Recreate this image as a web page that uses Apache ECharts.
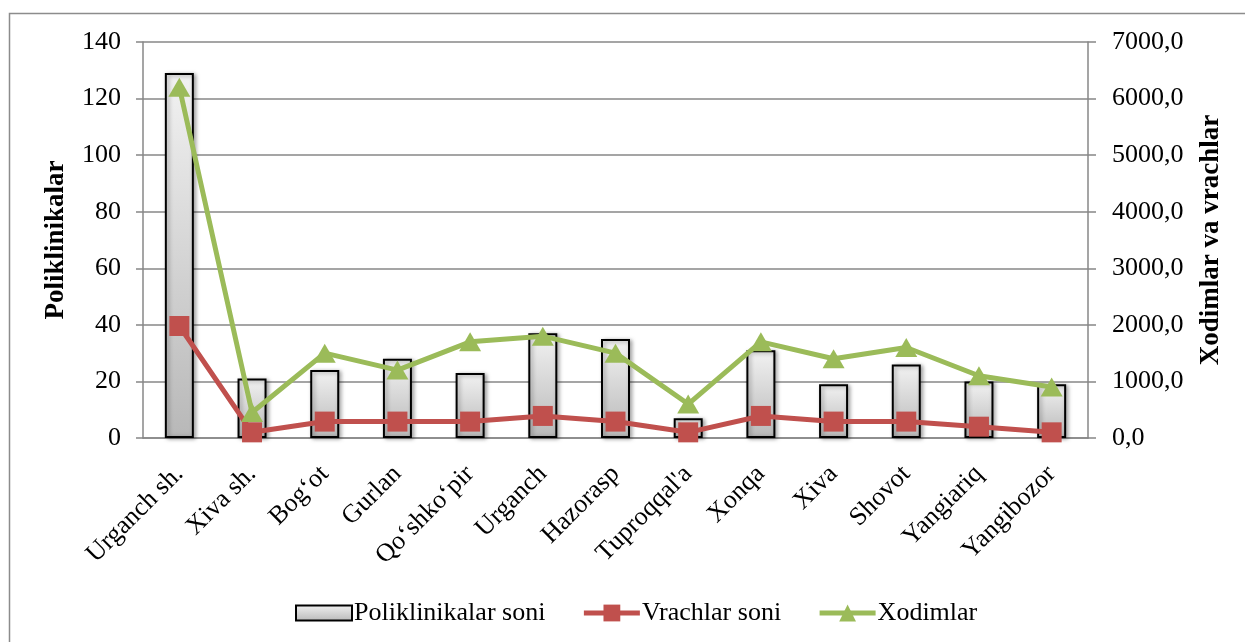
<!DOCTYPE html>
<html lang="uz">
<head>
    <meta charset="UTF-8">
    <title>Poliklinikalar</title>
    <script src="https://cdn.jsdelivr.net/npm/echarts@6/dist/echarts.min.js"></script>
    <style>
        html, body { margin: 0; padding: 0; background: #fff; }
        #chart { width: 1245px; height: 642px; }
    </style>
</head>
<body>
    <div id="chart"></div>
    <script>
        // tumanlar
        const categories = ['Urganch sh.', 'Xiva sh.', 'Bog‘ot', 'Gurlan', 'Qo‘shko‘pir', 'Urganch', 'Hazorasp',
            "Tuproqqal'a", 'Xonqa', 'Xiva', 'Shovot', 'Yangiariq', 'Yangibozor'];
        // chap o'q
        const poliklinikalar = [129, 21, 24, 28, 23, 37, 35, 7, 31, 19, 26, 20, 19];
        // o'ng o'q
        const vrachlar = [1980, 100, 290, 290, 290, 390, 290, 100, 390, 290, 290, 200, 100];
        const xodimlar = [6200, 450, 1500, 1200, 1700, 1800, 1500, 600, 1700, 1400, 1600, 1100, 900];

        const font = 'Liberation Serif';
        const gridColor = '#878787';
        const red = '#C0504D';
        const green = '#9BBB59';

        const chart = echarts.init(document.getElementById('chart'));

        const option = {
            animation: false,
            textStyle: { fontFamily: font, color: '#000' },
            graphic: [{
                type: 'rect',
                shape: { x: 9.5, y: 13.5, width: 1400, height: 800 },
                style: { fill: 'none', stroke: '#8c8c8c', lineWidth: 1.5 },
                silent: true
            }],
            grid: { left: 143, right: 157, top: 42, bottom: 204 },
            legend: {
                left: 290,
                top: 595,
                itemWidth: 56,
                itemHeight: 21,
                itemGap: 36,
                lineStyle: { width: 'inherit' },
                textStyle: { fontFamily: font, fontSize: 26, color: '#000', padding: [0, 0, 0, -3] },
                data: [
                    { name: 'Poliklinikalar soni', icon: 'path://M0,0 L52,0 L52,14 L0,14 Z' },
                    { name: 'Vrachlar soni' },
                    { name: 'Xodimlar' }
                ]
            },
            xAxis: {
                type: 'category',
                data: categories,
                axisLine: { lineStyle: { color: gridColor, width: 1.5 } },
                axisTick: { length: 7, lineStyle: { color: gridColor, width: 1.5 } },
                axisLabel: { rotate: 45, fontSize: 26, color: '#000', margin: 32, fontFamily: font }
            },
            yAxis: [{
                type: 'value',
                min: 0, max: 140, interval: 20,
                name: 'Poliklinikalar',
                nameLocation: 'middle',
                nameRotate: 90,
                nameGap: 73,
                nameTextStyle: { fontFamily: font, fontSize: 27, fontWeight: 'bold', color: '#000' },
                axisLine: { show: true, lineStyle: { color: gridColor, width: 1.5 } },
                axisTick: { show: true, length: 7, lineStyle: { color: gridColor, width: 1.5 } },
                axisLabel: { fontSize: 26, color: '#000', margin: 22, fontFamily: font },
                splitLine: { lineStyle: { color: gridColor, width: 1.5 } }
            }, {
                type: 'value',
                min: 0, max: 7000, interval: 1000,
                name: 'Xodimlar va vrachlar',
                nameLocation: 'middle',
                nameRotate: 90,
                nameGap: 110,
                nameTextStyle: { fontFamily: font, fontSize: 27, fontWeight: 'bold', color: '#000' },
                axisLine: { show: true, lineStyle: { color: gridColor, width: 1.5 } },
                axisTick: { show: true, length: 8, lineStyle: { color: gridColor, width: 1.5 } },
                axisLabel: {
                    fontSize: 26, color: '#000', margin: 24, fontFamily: font,
                    formatter: v => v.toFixed(1).replace('.', ',')
                },
                splitLine: { show: false }
            }],
            series: [{
                name: 'Poliklinikalar soni',
                type: 'bar',
                yAxisIndex: 0,
                data: poliklinikalar,
                barWidth: 29,
                itemStyle: {
                    color: new echarts.graphic.LinearGradient(0, 0, 0, 1, [
                        { offset: 0, color: '#f2f2f2' },
                        { offset: 1, color: '#b8b8b8' }
                    ]),
                    borderColor: '#000',
                    borderWidth: 2,
                    shadowColor: 'rgba(0,0,0,0.35)',
                    shadowBlur: 4,
                    shadowOffsetX: 2,
                    shadowOffsetY: 1
                }
            }, {
                name: 'Vrachlar soni',
                type: 'line',
                yAxisIndex: 1,
                data: vrachlar,
                symbol: 'rect',
                symbolSize: 20,
                lineStyle: { color: red, width: 5 },
                itemStyle: { color: red }
            }, {
                name: 'Xodimlar',
                type: 'line',
                yAxisIndex: 1,
                data: xodimlar,
                symbol: 'triangle',
                symbolSize: [22, 19],
                lineStyle: { color: green, width: 5 },
                itemStyle: { color: green }
            }]
        };
        chart.setOption(option);
    </script>
</body>
</html>
